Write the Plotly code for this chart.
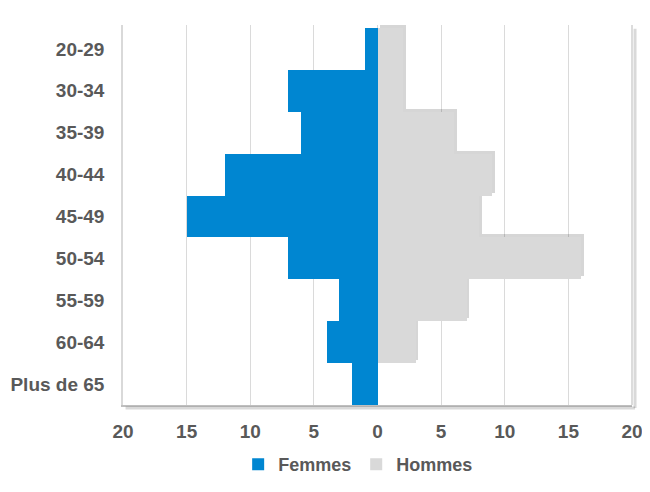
import plotly.graph_objects as go

# tranches d'âge et effectifs
ages = ["20-29", "30-34", "35-39", "40-44", "45-49", "50-54", "55-59", "60-64", "Plus de 65"]
femmes = [1, 7, 6, 12, 15, 7, 3, 4, 2]
hommes = [2, 2, 6, 9, 8, 16, 7, 3, 0]
tick_vals = [-20, -15, -10, -5, 0, 5, 10, 15, 20]
tick_text = ["20", "15", "10", "5", "0", "5", "10", "15", "20"]

BLUE = "#0086D1"
GREY = "#D9D9D9"
TXT = "#595959"
FONT = "Liberation Sans"

fig = go.Figure()

# soft shadow behind the grey bars (down and right)
fig.add_bar(
    y=ages, x=hommes, base=[0.22] * len(ages), orientation="h",
    offset=-0.57, width=1.0,
    marker=dict(color="rgba(0,0,0,0.16)", line=dict(width=0)),
    showlegend=False, hoverinfo="skip",
)
fig.add_bar(
    y=ages, x=[-v for v in femmes], orientation="h", name="Femmes",
    marker=dict(color=BLUE, line=dict(width=0)),
)
fig.add_bar(
    y=ages, x=hommes, orientation="h", name="Hommes",
    marker=dict(color=GREY, line=dict(width=0)),
)

fig.update_layout(
    width=650, height=492,
    barmode="overlay", bargap=0,
    plot_bgcolor="white", paper_bgcolor="white",
    # page body adds 8px, compensated here
    margin=dict(l=115, r=26, t=17, b=95),
    font=dict(family=FONT, size=19, color=TXT),
    legend=dict(
        orientation="h", x=0.462, xanchor="center", y=-0.108, yanchor="top",
        font=dict(family=FONT, size=18, color=TXT, weight="bold"),
        itemwidth=30, traceorder="normal",
    ),
    shapes=[
        # frame shadow right and bottom
        dict(type="line", xref="paper", yref="paper", x0=1.006, x1=1.006, y0=-0.008, y1=0.99,
             line=dict(color="rgba(0,0,0,0.15)", width=3)),
        dict(type="line", xref="paper", yref="paper", x0=0.005, x1=1.006, y0=-0.008, y1=-0.008,
             line=dict(color="rgba(0,0,0,0.15)", width=3)),
        dict(type="line", xref="paper", yref="paper", x0=1, x1=1, y0=0, y1=1,
             line=dict(color="#D0D0D0", width=1.5)),
    ],
)

fig.update_xaxes(
    range=[-20, 20], tickvals=tick_vals, ticktext=tick_text,
    showgrid=True, gridcolor="#DADADA", gridwidth=1.2,
    zeroline=False, showline=True, linecolor="#BFBFBF", linewidth=1.5,
    tickfont=dict(family=FONT, size=19, color=TXT, weight="bold"), ticks="",
    ticklabelstandoff=8, automargin=False,
)
fig.update_yaxes(
    categoryorder="array", categoryarray=ages, autorange="reversed",
    showgrid=False, zeroline=False, showline=True, linecolor="#D9D9D9", linewidth=1.5,
    tickfont=dict(family=FONT, size=19, color=TXT, weight="bold"), ticks="",
    ticklabelstandoff=13, automargin=False,
)

fig.write_html("out.html")
